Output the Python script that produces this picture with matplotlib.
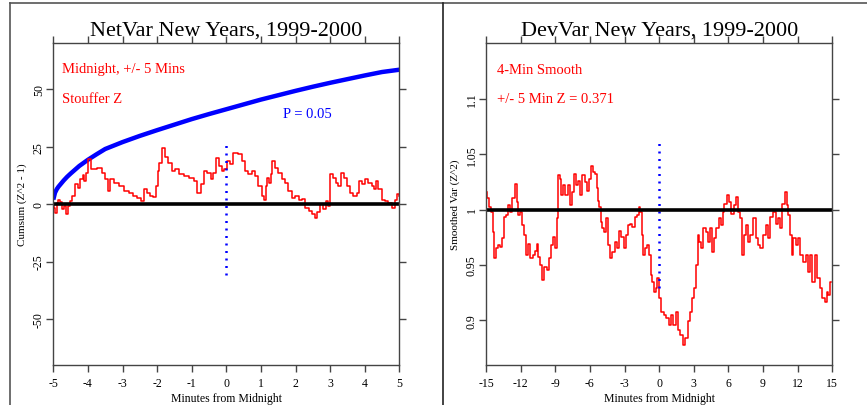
import numpy as np
import matplotlib
matplotlib.use('Agg')
import matplotlib.pyplot as plt
from matplotlib.lines import Line2D

plt.rcParams['font.family'] = ['Liberation Serif', 'DejaVu Serif']
plt.rcParams['axes.unicode_minus'] = False

# ---- NetVar data (left panel) ----
netvar_min = [-5.00, -4.96, -4.92, -4.88, -4.84, -4.78, -4.72, -4.66, -4.61, -4.55,
              -4.51, -4.42, -4.32, -4.26, -4.17, -4.13, -4.08, -4.03, -3.95, -3.85,
              -3.65, -3.55, -3.46, -3.39, -3.32, -3.17, -3.03, -2.88, -2.74, -2.64,
              -2.50, -2.42, -2.35, -2.25, -2.15, -2.06, -2.01, -1.96, -1.92, -1.82,
              -1.72, -1.63, -1.53, -1.43, -1.28, -1.14, -0.99, -0.89, -0.79, -0.70,
              -0.60, -0.50, -0.41, -0.34, -0.26, -0.18, -0.08, -0.03, 0.06, 0.15,
              0.25, 0.40, 0.49, 0.59, 0.68, 0.78, 0.88, 0.97, 1.07, 1.12,
              1.17, 1.21, 1.26, 1.31, 1.36, 1.46, 1.55, 1.65, 1.75, 1.84,
              1.94, 2.04, 2.14, 2.23, 2.33, 2.43, 2.52, 2.59, 2.67, 2.76,
              2.84, 2.91, 2.97, 3.03, 3.13, 3.19, 3.29, 3.35, 3.43, 3.52,
              3.62, 3.72, 3.81, 3.87, 3.96, 4.06, 4.15, 4.25, 4.30, 4.35,
              4.44, 4.54, 4.64, 4.73, 4.83, 4.90, 4.96, 5.00]
netvar_cumsum = [0.0, -1.5, -3.8, 0.5, 2.0, 1.0, -2.0, -1.0, -4.4, -1.0,
                 1.3, 3.5, 8.6, 7.0, 10.8, 12.5, 10.0, 13.7, 19.5, 15.1,
                 15.9, 13.7, 10.8, 5.7, 10.8, 9.3, 8.0, 5.7, 5.0, 3.5,
                 2.8, 1.5, 6.4, 5.0, 3.5, 2.9, 8.0, 14.4, 18.0, 24.5,
                 20.5, 18.0, 14.4, 15.1, 13.0, 12.2, 11.5, 10.0, 5.0, 8.6,
                 14.4, 13.7, 10.8, 13.7, 20.2, 16.5, 14.4, 15.1, 18.8, 17.5,
                 22.4, 22.0, 18.8, 14.4, 13.0, 14.4, 12.2, 7.9, 3.5, 2.0,
                 7.9, 11.5, 9.0, 13.0, 18.8, 15.9, 13.7, 10.8, 9.3, 5.7,
                 2.8, 3.5, 2.0, 2.2, -1.6, -3.0, -4.5, -5.9, -3.6, 0.0,
                 -2.2, 1.5, -0.7, 13.0, 11.5, 9.3, 7.9, 13.7, 11.5, 7.9,
                 5.0, 3.5, 5.0, 10.0, 8.6, 10.8, 9.3, 7.9, 6.4, 10.0,
                 6.4, 2.0, 1.3, 0.6, -1.6, 2.0, 4.2, 3.5]

# P = 0.05 envelope
p05_min = [-5, -4.97, -4.95, -4.9, -4.85, -4.8, -4.7, -4.6, -4.5, -4.25, -4, -3.75, -3.5,
           -3, -2.5, -2, -1.5, -1, -0.5, 0, 0.5, 1, 1.5, 2, 2.5, 3, 3.5, 4, 4.5, 5]
p05_val = [2.0, 3.8, 5.0, 6.5, 7.6, 8.5, 10.3, 11.9, 13.3, 16.6, 19.3, 21.7, 24.0,
           27.0, 29.7, 32.2, 34.6, 37.0, 39.2, 41.3, 43.4, 45.5, 47.4, 49.3, 51.1, 52.8,
           54.4, 56.0, 57.5, 58.5]

# ---- DevVar data (right panel) ----
devvar_min = [-14.94, -14.83, -14.65, -14.48, -14.36, -14.25, -14.08, -13.87, -13.73, -13.58,
              -13.38, -13.15, -13.01, -12.86, -12.63, -12.43, -12.28, -12.14, -11.94, -11.76,
              -11.65, -11.48, -11.27, -11.07, -10.84, -10.70, -10.55, -10.41, -10.21, -10.06,
              -9.83, -9.63, -9.45, -9.25, -9.11, -8.96, -8.82, -8.70, -8.53, -8.39,
              -8.24, -8.01, -7.81, -7.61, -7.43, -7.32, -7.14, -6.94, -6.74, -6.57,
              -6.36, -6.16, -5.99, -5.84, -5.64, -5.47, -5.35, -5.24, -5.12, -5.01,
              -4.83, -4.66, -4.49, -4.31, -4.14, -3.97, -3.76, -3.56, -3.39, -3.19,
              -2.98, -2.81, -2.61, -2.41, -2.23, -2.03, -1.83, -1.71, -1.54, -1.42,
              -1.31, -1.16, -0.96, -0.79, -0.67, -0.53, -0.38, -0.21, -0.13, 0.07,
              0.28, 0.51, 0.74, 0.94, 1.14, 1.32, 1.52, 1.72, 1.95, 2.18,
              2.38, 2.59, 2.76, 2.96, 3.11, 3.25, 3.40, 3.54, 3.68, 3.92,
              4.12, 4.32, 4.49, 4.70, 4.84, 5.07, 5.27, 5.42, 5.56, 5.76,
              5.94, 6.14, 6.34, 6.57, 6.80, 6.92, 7.09, 7.27, 7.44, 7.61,
              7.79, 8.02, 8.25, 8.45, 8.65, 8.88, 9.12, 9.32, 9.52, 9.75,
              9.98, 10.18, 10.39, 10.56, 10.76, 10.96, 11.14, 11.25, 11.43, 11.54,
              11.72, 11.92, 12.12, 12.35, 12.58, 12.79, 12.99, 13.16, 13.36, 13.57,
              13.80, 14.03, 14.23, 14.43, 14.60, 14.72, 14.89]
devvar_var = [1.016, 1.010, 1.002, 0.998, 0.980, 0.956, 0.965, 0.968, 0.966, 0.974,
              0.993, 0.995, 1.004, 0.998, 1.010, 1.023, 1.007, 0.995, 0.998, 0.986,
              0.977, 0.959, 0.969, 0.956, 0.959, 0.963, 0.969, 0.957, 0.950, 0.936,
              0.948, 0.945, 0.956, 0.968, 0.975, 0.965, 0.992, 1.031, 1.028, 1.013,
              1.022, 1.013, 1.022, 1.004, 1.016, 1.032, 1.022, 1.026, 1.013, 1.031,
              1.025, 1.017, 1.028, 1.039, 1.034, 1.032, 1.019, 1.008, 1.002, 0.989,
              0.983, 0.980, 0.992, 0.968, 0.956, 0.962, 0.971, 0.965, 0.981, 0.975,
              0.965, 0.977, 0.986, 0.987, 0.984, 0.993, 0.995, 1.002, 0.998, 0.977,
              0.959, 0.965, 0.968, 0.959, 0.941, 0.935, 0.926, 0.929, 0.938, 0.920,
              0.908, 0.905, 0.902, 0.896, 0.905, 0.896, 0.908, 0.891, 0.887, 0.878,
              0.884, 0.899, 0.908, 0.920, 0.929, 0.950, 0.977, 0.971, 0.965, 0.983,
              0.980, 0.971, 0.983, 0.962, 0.974, 0.983, 0.992, 0.986, 0.998, 1.005,
              1.013, 1.007, 0.996, 1.004, 1.011, 0.998, 0.992, 0.959, 0.977, 0.986,
              0.971, 0.977, 0.992, 0.974, 0.968, 0.965, 0.977, 0.986, 0.974, 0.993,
              0.998, 0.987, 0.992, 0.983, 1.005, 1.016, 1.004, 0.995, 0.977, 0.959,
              0.974, 0.968, 0.974, 0.959, 0.953, 0.959, 0.944, 0.959, 0.935, 0.959,
              0.938, 0.929, 0.920, 0.917, 0.926, 0.923, 0.935]

W, H = 867, 406
fig = plt.figure(figsize=(W / 100, H / 100), dpi=100)

spine_col = '#444444'


def style_axes(ax):
    for s in ax.spines.values():
        s.set_color(spine_col)
        s.set_linewidth(1.0)
    ax.tick_params(direction='out', length=5, width=1, color=spine_col,
                   top=True, right=True, labelsize=8.5, pad=4)
    ax.tick_params(axis='y', labelrotation=90, pad=1)
    for lab in ax.get_yticklabels():
        lab.set_va('center')


# left panel
ax1 = fig.add_axes([53.3 / W, 1 - 366 / H, 346 / W, 321.7 / H])
ax1.plot(p05_min, p05_val, color='#0000ff', lw=3.2, solid_capstyle='butt')
ax1.plot(netvar_min, netvar_cumsum, color='#ff0000', lw=1.1, drawstyle='steps-mid')
ax1.plot([0, 0], [-31, 28], color='#0000ff', lw=1.8, linestyle=(0, (0.8, 2.2)))
ax1.axhline(0, color='black', lw=2.6)
ax1.set_xlim(-5, 5)
ax1.set_ylim(-70, 70)
ax1.set_xticks(range(-5, 6))
ax1.set_yticks([-50, -25, 0, 25, 50])
style_axes(ax1)
ax1.set_xlabel('Minutes from Midnight', fontsize=8.5, labelpad=2)
ax1.set_ylabel('Cumsum (Z^2 - 1)', fontsize=8, labelpad=4)
ax1.text(0.5, 1 + 9 / 321.7, 'NetVar New Years, 1999-2000', transform=ax1.transAxes,
         ha='center', va='baseline', fontsize=16)
ax1.text(0.024, 0.912, 'Midnight, +/- 5 Mins', transform=ax1.transAxes,
         color='#ff0000', fontsize=10.5, va='baseline')
ax1.text(0.024, 0.818, 'Stouffer Z', transform=ax1.transAxes,
         color='#ff0000', fontsize=10.5, va='baseline')
ax1.text(0.663, 0.770, 'P = 0.05', transform=ax1.transAxes,
         color='#0000ff', fontsize=10.5, va='baseline')

# right panel
ax2 = fig.add_axes([486 / W, 1 - 365.7 / H, 346.3 / W, 321.4 / H])
ax2.plot(devvar_min, devvar_var, color='#ff0000', lw=1.1, drawstyle='steps-mid')
ax2.plot([0, 0], [0.929, 1.065], color='#0000ff', lw=1.8, linestyle=(0, (0.8, 2.2)))
ax2.axhline(1.0, color='black', lw=2.6)
ax2.set_xlim(-15, 15)
ax2.set_ylim(0.86, 1.15)
ax2.set_xticks(range(-15, 16, 3))
ax2.set_yticks([0.9, 0.95, 1.0, 1.05, 1.1])
ax2.set_yticklabels(['0.9', '0.95', '1', '1.05', '1.1'])
style_axes(ax2)
ax2.set_xlabel('Minutes from Midnight', fontsize=8.5, labelpad=2)
ax2.set_ylabel('Smoothed Var (Z^2)', fontsize=8, labelpad=4)
ax2.text(0.5, 1 + 9 / 321.4, 'DevVar New Years, 1999-2000', transform=ax2.transAxes,
         ha='center', va='baseline', fontsize=16)
ax2.text(0.031, 0.908, '4-Min Smooth', transform=ax2.transAxes,
         color='#ff0000', fontsize=10.5, va='baseline')
ax2.text(0.031, 0.818, '+/- 5 Min Z = 0.371', transform=ax2.transAxes,
         color='#ff0000', fontsize=10.5, va='baseline')

# page frame lines
frame_col = '#555555'
fig.add_artist(Line2D([9.5 / W, 1], [1 - 3.5 / H, 1 - 3.5 / H], color=frame_col, lw=1.2))
fig.add_artist(Line2D([9.5 / W, 9.5 / W], [0, 1 - 3.5 / H], color=frame_col, lw=1.2))
fig.add_artist(Line2D([443.3 / W, 443.3 / W], [0, 1 - 3.5 / H], color='#222222', lw=1.2))

fig.savefig('out.png', dpi=100)
